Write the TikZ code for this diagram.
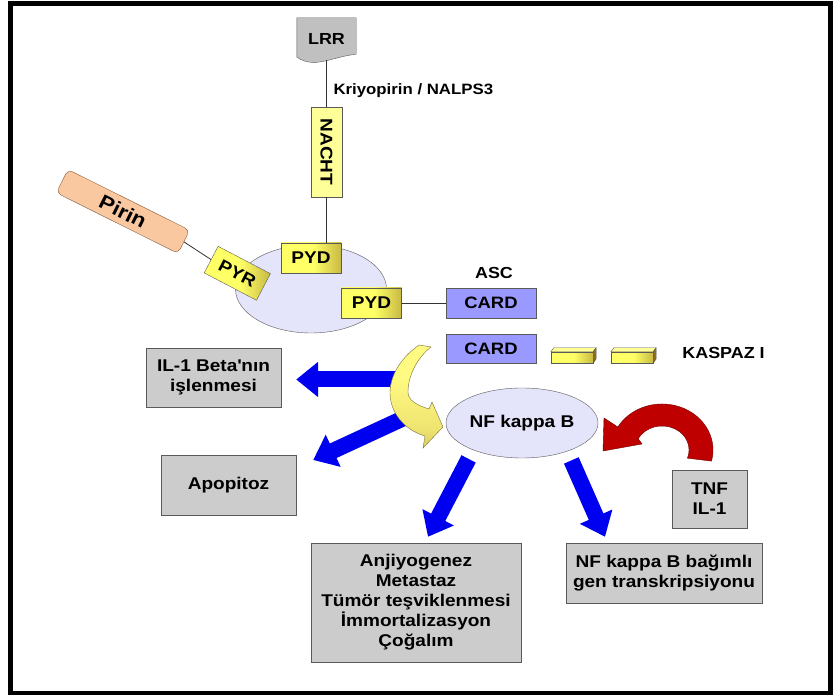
\documentclass[tikz,border=0pt]{standalone}
\usepackage{xcolor}
\usepackage{fontspec}
\setmainfont{Liberation Sans}[FakeStretch=1.12]
\usepackage{tikz}
\usetikzlibrary{shapes.geometric,positioning,arrows.meta,calc}

\definecolor{boxgray}{RGB}{204,204,204}
\definecolor{boxline}{RGB}{90,90,90}
\definecolor{linkgray}{RGB}{50,50,50}
\definecolor{lrrgray}{RGB}{192,192,192}
\definecolor{nachtyellow}{RGB}{255,255,153}
\definecolor{pydyellow}{RGB}{255,255,102}
\definecolor{pydbrown}{RGB}{140,110,30}
\definecolor{cardblue}{RGB}{153,153,255}
\definecolor{complexfill}{RGB}{228,228,250}
\definecolor{pirinfill}{RGB}{250,200,160}
\definecolor{pirinline}{RGB}{140,90,50}
\definecolor{arrowblue}{RGB}{0,0,240}
\definecolor{arrowred}{RGB}{190,0,0}
\definecolor{redline}{RGB}{110,0,0}
\definecolor{cyellow}{RGB}{255,250,130}
\definecolor{cbrown}{RGB}{175,145,50}
\definecolor{cline}{RGB}{120,110,60}

\pgfdeclarehorizontalshading{pydshade}{100bp}{color(0bp)=(pydyellow); color(52bp)=(pydyellow); color(100bp)=(pydbrown)}
\pgfdeclareverticalshading{cshade}{100bp}{color(0bp)=(cbrown); color(35bp)=(cyellow!80!cbrown); color(60bp)=(cyellow); color(100bp)=(cyellow)}

\begin{document}
\begin{tikzpicture}[x=1pt, y=1pt,
    every node/.style={font=\bfseries\fontsize{17}{20}\selectfont},
    graybox/.style={draw=boxline, fill=boxgray, align=center, inner sep=0pt},
    pydbox/.style={draw=boxline, shading=pydshade, minimum width=60pt, minimum height=30pt, inner sep=0pt},
    cardbox/.style={draw=boxline, fill=cardblue, minimum width=90pt, minimum height=30pt, inner sep=0pt, font=\bfseries\fontsize{16.5}{20}\selectfont},
    barfront/.style={draw=boxline, shading=pydshade, minimum width=42pt, minimum height=11pt, inner sep=0pt},
    link/.style={draw=linkgray, line width=0.8pt},
    bluearrow/.style={draw=arrowblue, line width=16pt, -{Triangle[length=22pt, width=34pt]}}]
    \useasboundingbox (0,0) rectangle (833,696);
    \draw [line width=4.5pt] (10.5,3) rectangle (830.5,692.5);

    \node [minimum width=59pt, minimum height=42pt, inner sep=0pt, font=\bfseries\fontsize{16}{20}\selectfont] (lrr) at (326.5,657) {};
    \draw [draw=boxline, fill=lrrgray] (lrr.north west) -- (lrr.north east) -- ([yshift=6pt]lrr.south east) .. controls +(-26,-3) and +(18,-12) .. ([yshift=3pt]lrr.south west) -- cycle;
    \node [font=\bfseries\fontsize{16}{20}\selectfont] at (lrr) {LRR};
    \node [draw=boxline, fill=nachtyellow, minimum width=31pt, minimum height=90pt, inner sep=0pt] (nacht) at (326.5,544) {\rotatebox{-90}{NACHT}};
    \node [anchor=west, inner sep=2pt, font=\bfseries\fontsize{15}{18}\selectfont] (kriyo) at (331.3,605) {Kriyopirin / NALPS3};

    \node [ellipse, draw=boxline, fill=complexfill, minimum width=151pt, minimum height=88pt, inner sep=0pt] (complex) at (311,407) {};
    \node [pydbox] (pyd1) at (311,438) {PYD};
    \node [pydbox] (pyd2) at (371.5,393) {PYD};
    \node [pydbox, minimum width=59pt, rotate=-27.6] (pyr) at (237.3,422.7) {PYR};
    \node [draw=pirinline, fill=pirinfill, rounded corners=5pt, minimum width=136pt, minimum height=26pt, inner sep=0pt, rotate=-26.5, font=\bfseries\fontsize{20}{24}\selectfont] (pirin) at (123,484.5) {Pirin};

    \node [cardbox] (card1) at (491,393) {CARD};
    \node [cardbox, minimum height=29pt] (card2) at (491,347.5) {CARD};
    \node [above=7pt of card1, xshift=3pt, inner sep=2pt, font=\bfseries\fontsize{16}{20}\selectfont] (asc) {ASC};

    \foreach \bx [count=\i] in {572,632} {
        \node [barfront] (kasp\i) at (\bx,338.5) {};
        \draw [draw=boxline, fill=pydyellow!70!white] (kasp\i.north west) -- ++(3,4) -- ++(42,0) -- (kasp\i.north east) -- cycle;
        \draw [draw=boxline, fill=pydbrown] (kasp\i.north east) -- ++(3,4) -- ++(0,-11) -- (kasp\i.south east) -- cycle;
    }
    \node [right=27pt of kasp2, yshift=4.5pt, inner sep=2pt, font=\bfseries\fontsize{16}{20}\selectfont] (kaspaz) {KASPAZ I};

    \draw [link] (lrr.south) -- (nacht.north);
    \draw [link] (nacht.south) -- (nacht.south |- pyd1.north);
    \draw [link] (pirin.east) -- (pyr.west);
    \draw [link] (pyd2.east) -- (card1.west);

    \node [ellipse, draw=boxline, fill=complexfill, minimum width=152pt, minimum height=70pt, inner sep=0pt] (nfkb) at (522,273) {NF kappa B};

    \node [graybox, minimum width=135pt, minimum height=59pt] (il1) at (213.5,318.5) {IL-1 Beta\textquotesingle{}nın\\işlenmesi};
    \node [graybox, minimum width=135pt, minimum height=60pt] (apop) at (228.5,211) {Apopitoz};
    \node [graybox, minimum width=75pt, minimum height=58pt] (tnf) at (709.5,197) {TNF\\IL-1};
    \node [graybox, minimum width=210pt, minimum height=119pt] (anjio) at (416,93.5) {Anjiyogenez\\Metastaz\\Tümör teşviklenmesi\\İmmortalizasyon\\Çoğalım};
    \node [graybox, minimum width=196pt, minimum height=60pt] (nfbag) at (664,123) {NF kappa B bağımlı\\gen transkripsiyonu};

    \coordinate (cleft) at (398,316.5);
    \coordinate (clow) at (404,278);
    \draw [bluearrow, shorten >=15pt] (cleft) -- (cleft -| il1.east);
    \draw [bluearrow] (clow) -- ([shift={(17pt,25pt)}]apop.east);
    \draw [bluearrow, shorten <=10pt] (nfkb.209) -- ([shift={(12pt,6pt)}]anjio.north);
    \draw [bluearrow, shorten <=10pt] (nfkb.-32) -- ([shift={(-59pt,6pt)}]nfbag.north);

    \draw [draw=cline, shading=cshade]
        (419,351) .. controls (398,336) and (390,318) .. (390,303)
        .. controls (390,284) and (404,266) .. (425,260)
        -- (423,248) -- (443,269) -- (432,294) -- (429,287)
        .. controls (416,291) and (408,296) .. (408,304)
        .. controls (408,321) and (418,339) .. (431,349) -- cycle;

    \draw [draw=redline, fill=arrowred]
        (711.5,234.9) arc [start angle=-14, end angle=150, x radius=51pt, y radius=46pt]
        -- (604,278) -- (603,245) -- (642,252) -- (638.2,257.3)
        arc [start angle=152, end angle=-20, x radius=27pt, y radius=24pt] -- cycle;
\end{tikzpicture}
\end{document}
